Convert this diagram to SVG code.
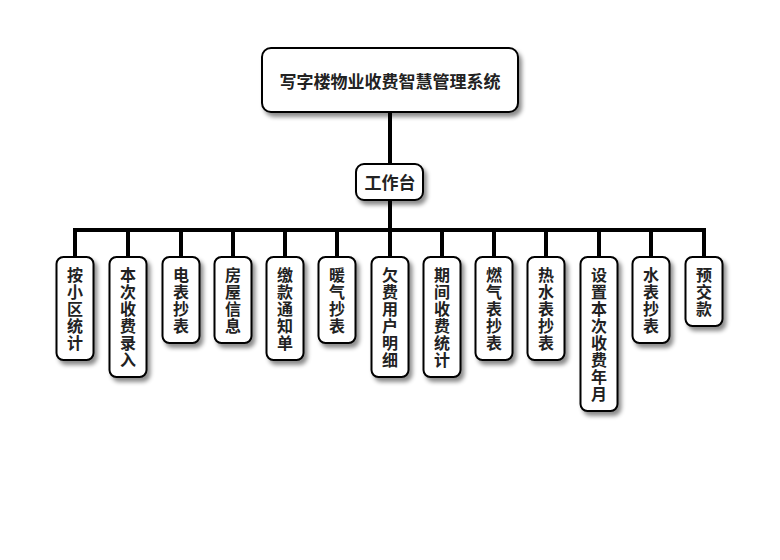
<svg xmlns="http://www.w3.org/2000/svg" width="780" height="560" viewBox="0 0 780 560">
<defs>
<filter id="sh" x="-30%" y="-30%" width="160%" height="160%">
<feDropShadow dx="3" dy="4" stdDeviation="2.2" flood-color="#000" flood-opacity="0.45"/>
</filter>
<style>
.box{fill:#fff;stroke:#000;stroke-width:2;filter:url(#sh)}
.t{font-family:"Noto Sans CJK SC","Liberation Sans",sans-serif;font-weight:bold;font-size:16px;fill:#222;text-anchor:middle}
.big{font-size:17px}
.c{stroke:#000;stroke-width:4;fill:none}
</style>
</defs>
<rect width="780" height="560" fill="#fff"/>
<g id="connectors">
<path class="c" d="M390 112V164M390 200V230M73 230H706"/>
<path class="c" d="M75 230V257M128 230V257M181 230V257M233 230V257M285 230V257M337 230V257M390 230V257M442 230V257M494 230V257M546 230V257M599 230V257M651 230V257M704 230V257"/>
</g>
<g id="root"><rect class="box" x="262" y="48" width="256" height="64" rx="9"/><text class="t big" x="390" y="88">写字楼物业收费智慧管理系统</text></g>
<g id="workbench"><rect class="box" x="356" y="164" width="67" height="36" rx="8"/><text class="t big" x="390" y="189">工作台</text></g>
<g id="n1"><rect class="box" x="56.5" y="257" width="37" height="103" rx="7"/><text class="t" x="75" y="281">按<tspan x="75" dy="17">小</tspan><tspan x="75" dy="17">区</tspan><tspan x="75" dy="17">统</tspan><tspan x="75" dy="17">计</tspan></text></g>
<g id="n2"><rect class="box" x="109.5" y="257" width="37" height="120" rx="7"/><text class="t" x="128" y="281">本<tspan x="128" dy="17">次</tspan><tspan x="128" dy="17">收</tspan><tspan x="128" dy="17">费</tspan><tspan x="128" dy="17">录</tspan><tspan x="128" dy="17">入</tspan></text></g>
<g id="n3"><rect class="box" x="162.5" y="257" width="37" height="86" rx="7"/><text class="t" x="181" y="281">电<tspan x="181" dy="17">表</tspan><tspan x="181" dy="17">抄</tspan><tspan x="181" dy="17">表</tspan></text></g>
<g id="n4"><rect class="box" x="214.5" y="257" width="37" height="86" rx="7"/><text class="t" x="233" y="281">房<tspan x="233" dy="17">屋</tspan><tspan x="233" dy="17">信</tspan><tspan x="233" dy="17">息</tspan></text></g>
<g id="n5"><rect class="box" x="266.5" y="257" width="37" height="103" rx="7"/><text class="t" x="285" y="281">缴<tspan x="285" dy="17">款</tspan><tspan x="285" dy="17">通</tspan><tspan x="285" dy="17">知</tspan><tspan x="285" dy="17">单</tspan></text></g>
<g id="n6"><rect class="box" x="318.5" y="257" width="37" height="86" rx="7"/><text class="t" x="337" y="281">暖<tspan x="337" dy="17">气</tspan><tspan x="337" dy="17">抄</tspan><tspan x="337" dy="17">表</tspan></text></g>
<g id="n7"><rect class="box" x="371.5" y="257" width="37" height="120" rx="7"/><text class="t" x="390" y="281">欠<tspan x="390" dy="17">费</tspan><tspan x="390" dy="17">用</tspan><tspan x="390" dy="17">户</tspan><tspan x="390" dy="17">明</tspan><tspan x="390" dy="17">细</tspan></text></g>
<g id="n8"><rect class="box" x="423.5" y="257" width="37" height="120" rx="7"/><text class="t" x="442" y="281">期<tspan x="442" dy="17">间</tspan><tspan x="442" dy="17">收</tspan><tspan x="442" dy="17">费</tspan><tspan x="442" dy="17">统</tspan><tspan x="442" dy="17">计</tspan></text></g>
<g id="n9"><rect class="box" x="475.5" y="257" width="37" height="103" rx="7"/><text class="t" x="494" y="281">燃<tspan x="494" dy="17">气</tspan><tspan x="494" dy="17">表</tspan><tspan x="494" dy="17">抄</tspan><tspan x="494" dy="17">表</tspan></text></g>
<g id="n10"><rect class="box" x="527.5" y="257" width="37" height="103" rx="7"/><text class="t" x="546" y="281">热<tspan x="546" dy="17">水</tspan><tspan x="546" dy="17">表</tspan><tspan x="546" dy="17">抄</tspan><tspan x="546" dy="17">表</tspan></text></g>
<g id="n11"><rect class="box" x="580.5" y="257" width="37" height="154" rx="7"/><text class="t" x="599" y="281">设<tspan x="599" dy="17">置</tspan><tspan x="599" dy="17">本</tspan><tspan x="599" dy="17">次</tspan><tspan x="599" dy="17">收</tspan><tspan x="599" dy="17">费</tspan><tspan x="599" dy="17">年</tspan><tspan x="599" dy="17">月</tspan></text></g>
<g id="n12"><rect class="box" x="632.5" y="257" width="37" height="86" rx="7"/><text class="t" x="651" y="281">水<tspan x="651" dy="17">表</tspan><tspan x="651" dy="17">抄</tspan><tspan x="651" dy="17">表</tspan></text></g>
<g id="n13"><rect class="box" x="685.5" y="257" width="37" height="69" rx="7"/><text class="t" x="704" y="281">预<tspan x="704" dy="17">交</tspan><tspan x="704" dy="17">款</tspan></text></g>
</svg>
